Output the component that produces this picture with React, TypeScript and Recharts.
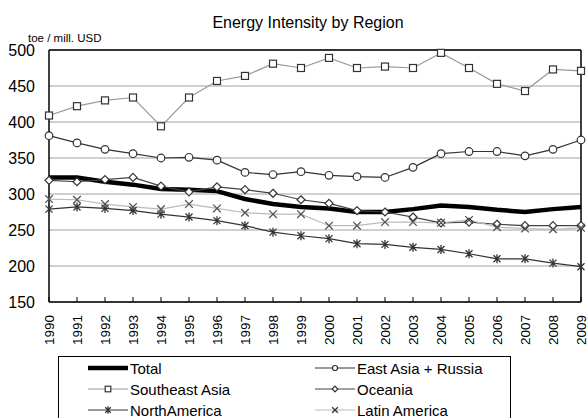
import { LineChart, Line, XAxis, YAxis, CartesianGrid, ReferenceLine } from "recharts";

const years = [
  "1990", "1991", "1992", "1993", "1994", "1995", "1996", "1997", "1998", "1999",
  "2000", "2001", "2002", "2003", "2004", "2005", "2006", "2007", "2008", "2009",
];
const total = [323, 323, 317, 313, 307, 306, 304, 293, 286, 282, 280, 275, 275, 279, 284, 282, 278, 275, 279, 282];
const eastAsia = [381, 371, 362, 356, 350, 351, 347, 330, 327, 331, 326, 324, 323, 337, 356, 359, 359, 353, 362, 375];
const southeastAsia = [409, 422, 430, 434, 394, 434, 457, 464, 481, 475, 489, 475, 477, 475, 496, 475, 453, 443, 473, 471];
const oceania = [319, 317, 320, 323, 311, 303, 310, 306, 301, 292, 287, 277, 275, 268, 260, 261, 258, 256, 256, 256];
const northAmerica = [279, 282, 280, 277, 272, 268, 263, 256, 247, 242, 238, 231, 230, 226, 223, 217, 210, 210, 204, 199];
const latinAmerica = [293, 292, 286, 282, 279, 286, 280, 274, 272, 272, 256, 256, 261, 261, 260, 264, 254, 252, 251, 253];
const yTicks = [150, 200, 250, 300, 350, 400, 450, 500];

const data = years.map((y, i) => ({
  year: y,
  total: total[i],
  eastAsia: eastAsia[i],
  southeastAsia: southeastAsia[i],
  oceania: oceania[i],
  northAmerica: northAmerica[i],
  latinAmerica: latinAmerica[i],
}));

const FONT = "'Liberation Sans', Arial, sans-serif";

type Shape = "square" | "circle" | "diamond" | "star" | "cross";

function marker(shape: Shape, cx: number, cy: number, s: number, color: string, key?: string) {
  if (shape === "square")
    return <rect key={key} x={cx - s} y={cy - s} width={s * 2} height={s * 2} fill="#fff" stroke={color} strokeWidth={1.2} />;
  if (shape === "circle")
    return <circle key={key} cx={cx} cy={cy} r={s} fill="#fff" stroke={color} strokeWidth={1.2} />;
  if (shape === "diamond")
    return (
      <path key={key} d={`M${cx},${cy - s}L${cx + s},${cy}L${cx},${cy + s}L${cx - s},${cy}Z`}
        fill="#fff" stroke={color} strokeWidth={1.2} />
    );
  if (shape === "star")
    return (
      <path key={key}
        d={`M${cx - s},${cy - s}L${cx + s},${cy + s}M${cx - s},${cy + s}L${cx + s},${cy - s}M${cx},${cy - s - 1}L${cx},${cy + s + 1}`}
        stroke={color} strokeWidth={1.3} fill="none" />
    );
  return (
    <path key={key} d={`M${cx - s},${cy - s}L${cx + s},${cy + s}M${cx - s},${cy + s}L${cx + s},${cy - s}`}
      stroke={color} strokeWidth={1.3} fill="none" />
  );
}

const dotOf = (shape: Shape, size: number, color: string) => (p: any) =>
  marker(shape, p.cx, p.cy, size, color, `${shape}-${p.index}`);

const XTick = (p: any) => (
  <g>
    <line x1={p.x} x2={p.x} y1={p.y - 5} y2={p.y} stroke="#000" strokeWidth={1} />
    <text x={p.x} y={p.y + 13} transform={`rotate(-90 ${p.x} ${p.y + 13})`} textAnchor="end"
      dominantBaseline="central" fontSize={13.5} fontFamily={FONT} fill="#000">
      {p.payload.value}
    </text>
  </g>
);

const YTick = (p: any) => (
  <text x={p.x - 14} y={p.y + 6} textAnchor="end" fontSize={16} fontFamily={FONT} fill="#000">
    {p.payload.value}
  </text>
);

const legendItems: { label: string; color: string; width: number; shape?: Shape; col: number; row: number }[] = [
  { label: "Total", color: "#000", width: 4.5, col: 0, row: 0 },
  { label: "East Asia + Russia", color: "#333", width: 1.2, shape: "circle", col: 1, row: 0 },
  { label: "Southeast Asia", color: "#999", width: 1.2, shape: "square", col: 0, row: 1 },
  { label: "Oceania", color: "#444", width: 1.2, shape: "diamond", col: 1, row: 1 },
  { label: "NorthAmerica", color: "#333", width: 1.2, shape: "star", col: 0, row: 2 },
  { label: "Latin America", color: "#bbb", width: 1.2, shape: "cross", col: 1, row: 2 },
];

export default function App() {
  return (
    <div style={{ position: "absolute", left: 0, top: 0, width: 588, height: 418, background: "#fff", overflow: "hidden" }}>
      <LineChart width={588} height={418} data={data} margin={{ top: 50, right: 7, left: 0, bottom: 66 }}>
        <CartesianGrid vertical={false} stroke="#a0a0a0" strokeWidth={1} />
        <XAxis dataKey="year" height={50} interval={0} tickSize={0} tickMargin={0}
          axisLine={{ stroke: "#000", strokeWidth: 1.5 }} tickLine={false} tick={<XTick />} />
        <YAxis domain={[150, 500]} ticks={yTicks} width={49} tickSize={0} tickMargin={0}
          axisLine={{ stroke: "#000", strokeWidth: 1.5 }} tickLine={false} tick={<YTick />} />
        <ReferenceLine y={500} stroke="#000" strokeWidth={1.5} />
        <ReferenceLine x="2009" stroke="#000" strokeWidth={1.5} />
        <Line dataKey="total" stroke="#000" strokeWidth={4.5} dot={false} isAnimationActive={false} />
        <Line dataKey="eastAsia" stroke="#333" strokeWidth={1.2} dot={dotOf("circle", 3.8, "#333")} isAnimationActive={false} />
        <Line dataKey="southeastAsia" stroke="#999" strokeWidth={1.2} dot={dotOf("square", 3.5, "#333")} isAnimationActive={false} />
        <Line dataKey="oceania" stroke="#444" strokeWidth={1.2} dot={dotOf("diamond", 4, "#333")} isAnimationActive={false} />
        <Line dataKey="northAmerica" stroke="#333" strokeWidth={1.2} dot={dotOf("star", 3.5, "#333")} isAnimationActive={false} />
        <Line dataKey="latinAmerica" stroke="#bbb" strokeWidth={1.2} dot={dotOf("cross", 3.8, "#555")} isAnimationActive={false} />
        <text x={308} y={28} textAnchor="middle" fontSize={16} fontFamily={FONT} fill="#000">
          Energy Intensity by Region
        </text>
        <text x={28} y={42} fontSize={11.5} fontFamily={FONT} fill="#000">
          toe / mill. USD
        </text>
      </LineChart>
      <svg width={588} height={418} style={{ position: "absolute", left: 0, top: 0, pointerEvents: "none" }}>
        <rect x={58.5} y={356.5} width={452} height={80} fill="#fff" stroke="#000" strokeWidth={1} />
        {legendItems.map((it) => {
          const x0 = it.col === 0 ? 88 : 315;
          const y = 368 + it.row * 21;
          return (
            <g key={it.label}>
              <line x1={x0} x2={x0 + 40} y1={y} y2={y} stroke={it.color} strokeWidth={it.width} />
              {it.shape && marker(it.shape, x0 + 20, y, it.shape === "circle" ? 2.5 : 2.8, "#333")}
              <text x={x0 + 42} y={y + 5.5} fontSize={15} fontFamily={FONT} fill="#000">
                {it.label}
              </text>
            </g>
          );
        })}
      </svg>
    </div>
  );
}
